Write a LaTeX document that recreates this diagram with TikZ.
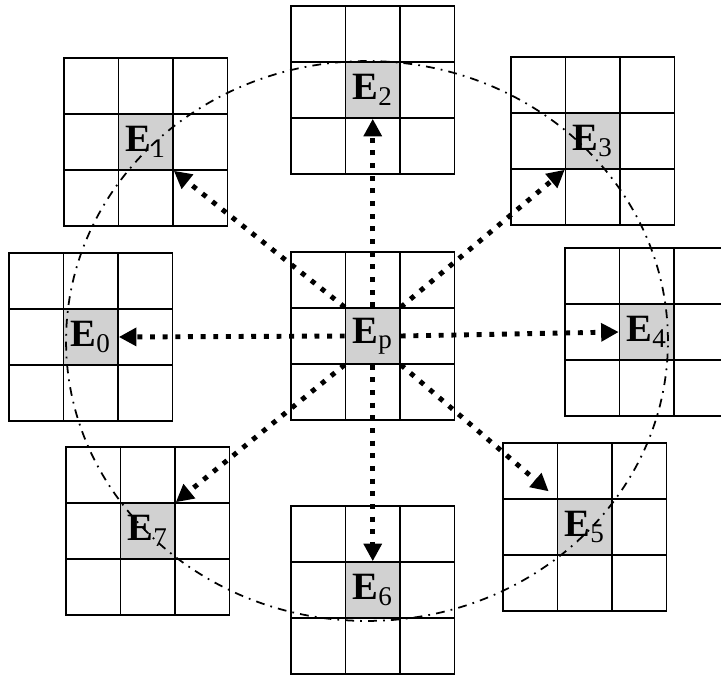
\documentclass[tikz,border=0pt]{standalone}
\usepackage{fontspec}
\setmainfont{Liberation Serif}
\usetikzlibrary{arrows.meta}

\begin{document}
\begin{tikzpicture}[
    x=0.02cm, y=-0.02cm,
    gridline/.style={draw, line width=0.9pt},
    ecell/.style={rectangle, draw, line width=0.9pt, fill=black!18, minimum width=1.09cm, minimum height=1.12cm, inner sep=0pt, font=\fontsize{22}{24}\selectfont},
    ring/.style={draw, line width=1pt, dash pattern=on 5pt off 3.5pt on 1pt off 3.5pt},
    move/.style={draw, line width=2.8pt, dash pattern=on 2.8pt off 4.4pt, -{Triangle[length=10pt, width=10pt]}}
]
    \clip (0,0) rectangle (721,676);

    % Grids of 3x3 cells, labelled cell in the middle
    \foreach \gx/\gy/\nm/\lab in {291/252/ep/p, 9/253/e0/0, 64/58/e1/1, 291/6/e2/2, 511/57/e3/3, 565/248/e4/4, 503/443/e5/5, 291/506/e6/6, 66/447/e7/7}{
        \foreach \i in {0,1,2}
            \foreach \j in {0,1,2}
                \draw[gridline] (\gx+\i*54.5, \gy+\j*56) rectangle ++(54.5,56);
        \node[ecell] (\nm) at (\gx+81.75, \gy+84) {\textbf{E}\textsubscript{\lab}};
    }

    % Dash-dot ring
    \draw[ring] (367,341) ellipse [x radius=6.02cm, y radius=5.6cm];

    % Moves from the centre cell
    \draw[move] (ep.north) -- (e2.south);
    \draw[move] (ep.south) -- (e6.north);
    \draw[move] (ep.west) -- (e0.east);
    \draw[move] (ep.east) -- (e4.west);
    \draw[move] (ep.north west) -- (e1.south east);
    \draw[move] (ep.north east) -- (e3.south west);
    \draw[move] (ep.south west) -- (e7.north east);
    \draw[move, shorten >=6pt] (ep.south east) -- (e5.north west);
\end{tikzpicture}
\end{document}
